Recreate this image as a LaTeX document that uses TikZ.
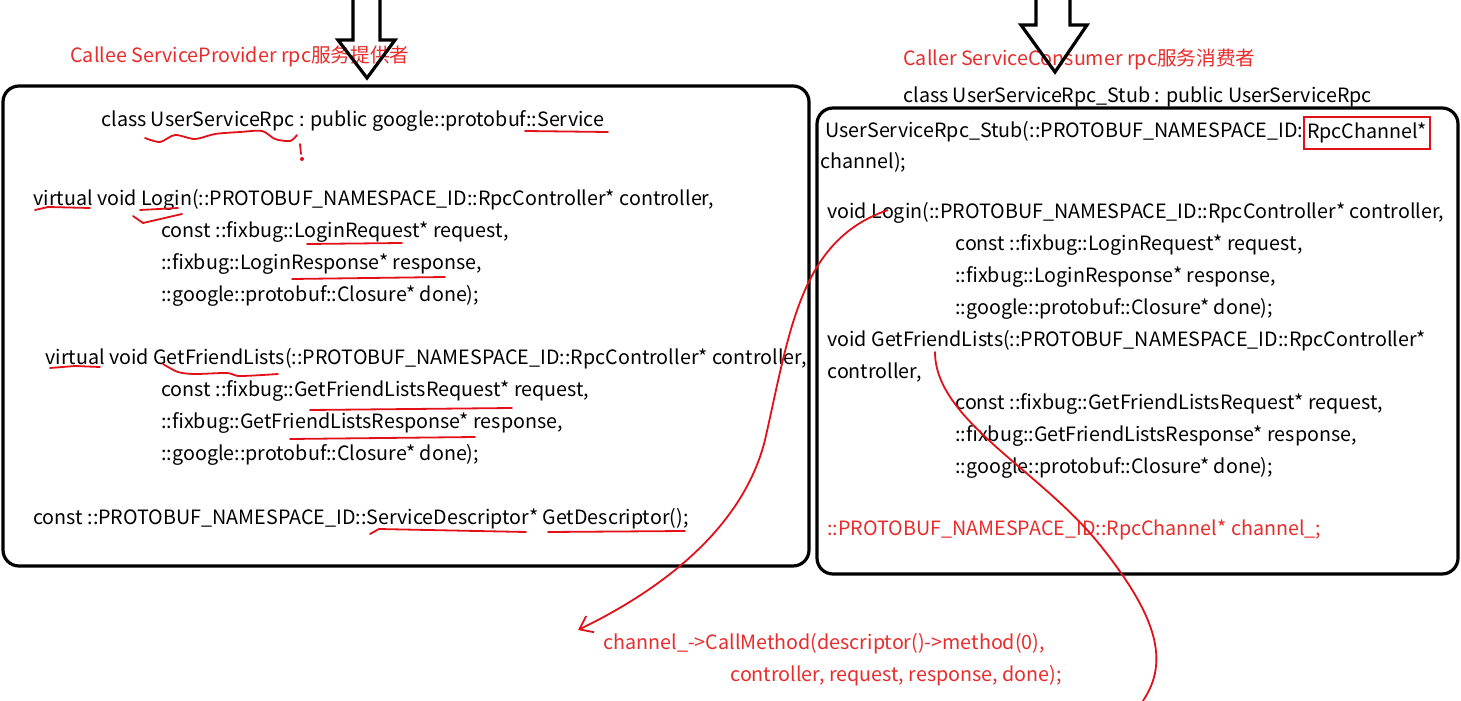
\documentclass[tikz,border=0pt]{standalone}
\usepackage{fontspec}
\setmainfont{Noto Sans CJK SC}
\usetikzlibrary{arrows.meta,positioning}
\definecolor{dred}{RGB}{232,44,44}
\definecolor{pen}{RGB}{226,16,24}
\tikzstyle{panel} = [draw, line width=1.6pt, rounded corners=8pt]
\tikzstyle{code} = [inner sep=0pt, anchor=mid west, yshift=-1pt, font=\fontsize{9.85}{12}\selectfont]
\tikzstyle{redcode} = [code, text=dred]
\tikzstyle{hollow} = [draw, line width=1.6pt, line join=miter]
\tikzstyle{scribble} = [draw=pen, line width=0.9pt, line cap=round, line join=round]
\tikzstyle{line} = [draw=pen, line width=0.9pt, -{Straight Barb[length=6pt,width=9pt]}]

\begin{document}
\begin{tikzpicture}[x=0.5pt,y=-0.5pt]
  \useasboundingbox (0,0) rectangle (1461,701);
  % callee side
  \node [redcode] (callee) at (70,55) {Callee ServiceProvider rpc服务提供者};
  \draw [panel] (3,86) rectangle (809,566);
  \node [code] (cls) at (101,119) {class UserServiceRpc : public google::protobuf::Service};
  \node [code] (login) at (33,198) {virtual void Login(::PROTOBUF\_NAMESPACE\_ID::RpcController* controller,};
  \node [code] (loginreq) at (161,230) {const ::fixbug::LoginRequest* request,};
  \node [code] (loginresp) at (161,262) {::fixbug::LoginResponse* response,};
  \node [code] (logindone) at (161,294) {::google::protobuf::Closure* done);};
  \node [code] (friends) at (45,357) {virtual void GetFriendLists(::PROTOBUF\_NAMESPACE\_ID::RpcController* controller,};
  \node [code] (friendsreq) at (161,389) {const ::fixbug::GetFriendListsRequest* request,};
  \node [code] (friendsresp) at (161,421) {::fixbug::GetFriendListsResponse* response,};
  \node [code] (friendsdone) at (161,453) {::google::protobuf::Closure* done);};
  \node [code] (desc) at (33,517) {const ::PROTOBUF\_NAMESPACE\_ID::ServiceDescriptor* GetDescriptor();};

  % caller side
  \node [redcode] (caller) at (903,58) {Caller ServiceConsumer rpc服务消费者};
  \node [code] (stubcls) at (903,95) {class UserServiceRpc\_Stub : public UserServiceRpc};
  \draw [panel] (817,108) rectangle (1458,574);
  \node [code] (stub) at (825,130) {UserServiceRpc\_Stub(::PROTOBUF\_NAMESPACE\_ID:};
  \node [code, draw=pen, line width=1pt, inner xsep=1.5pt, minimum height=16pt] (chan) at (1303,131) {RpcChannel*};
  \node [code] (stubarg) at (820,161) {channel);};
  \node [code] (rlogin) at (827,211) {void Login(::PROTOBUF\_NAMESPACE\_ID::RpcController* controller,};
  \node [code] (rloginreq) at (955,243) {const ::fixbug::LoginRequest* request,};
  \node [code] (rloginresp) at (955,275) {::fixbug::LoginResponse* response,};
  \node [code] (rlogindone) at (955,307) {::google::protobuf::Closure* done);};
  \node [code] (rfriends) at (827,339) {void GetFriendLists(::PROTOBUF\_NAMESPACE\_ID::RpcController*};
  \node [code] (rfriendsctl) at (827,371) {controller,};
  \node [code] (rfriendsreq) at (955,402) {const ::fixbug::GetFriendListsRequest* request,};
  \node [code] (rfriendsresp) at (955,434) {::fixbug::GetFriendListsResponse* response,};
  \node [code] (rfriendsdone) at (955,466) {::google::protobuf::Closure* done);};
  \node [redcode] (member) at (827,528) {::PROTOBUF\_NAMESPACE\_ID::RpcChannel* channel\_;};

  % the call
  \node [redcode] (call) at (603,642) {channel\_->CallMethod(descriptor()->method(0),};
  \node [redcode] (callargs) at (730,674) {controller, request, response, done);};

  % hollow arrows from above
  \path [hollow] (353,-5) -- (353,40) -- (338,40) -- (367,78) -- (395,40) -- (380,40) -- (380,-5);
  \path [hollow] (1036,-5) -- (1036,25) -- (1021,25) -- (1055,72) -- (1087,25) -- (1070,25) -- (1070,-5);

  % red pen marks
  \draw [scribble] plot [smooth] coordinates {(145,138) (160,142) (175,135) (195,139) (215,134) (240,132) (262,131) (275,139) (290,141) (297,135)};
  \draw [scribble] (300,144) -- (301,154);
  \fill [pen] (302,159) circle (1pt);
  \draw [scribble] (525,131) -- (608,132);
  \draw [scribble] (35,210) -- (48,207) -- (90,208);
  \draw [scribble] (140,210) -- (178,208);
  \draw [scribble] (133,216) -- (143,223) -- (182,214);
  \draw [scribble] (307,244) -- (402,243);
  \draw [scribble] (292,279) -- (445,277);
  \draw [scribble] (50,368) -- (75,366) -- (100,367);
  \draw [scribble] plot [smooth] coordinates {(163,364) (178,372) (195,374) (227,373) (240,376) (278,374)};
  \draw [scribble] (310,410) -- (512,408);
  \draw [scribble] (290,439) -- (475,437);
  \draw [scribble] (370,534) -- (379,529) -- (526,532);
  \draw [scribble] (548,532) -- (685,531);

  % connectors
  \coordinate (loginmark) at (888,210);
  \coordinate (calltip) at (578,630);
  \coordinate (ctlmark) at (935,352);
  \coordinate (outside) at (1140,705);
  \path [line] (loginmark) .. controls (800,240) and (790,330) .. (765,440)
    .. controls (740,540) and (640,600) .. (calltip);
  \draw [scribble] (ctlmark) .. controls (935,420) and (1040,470) .. (1100,545)
    .. controls (1160,620) and (1170,665) .. (outside);
\end{tikzpicture}
\end{document}
